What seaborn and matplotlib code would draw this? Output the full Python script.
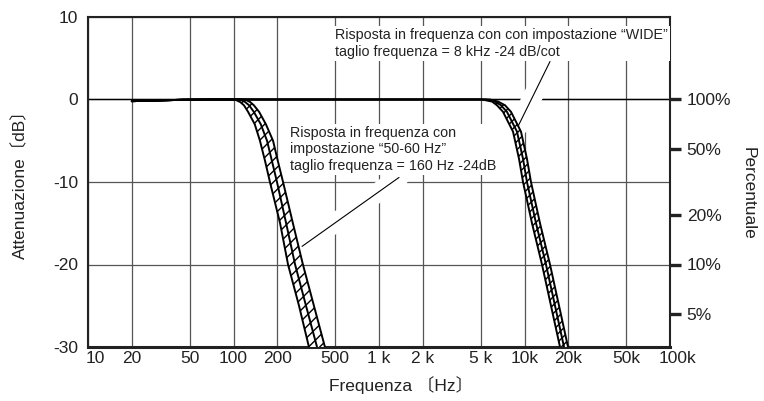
import pandas as pd
import seaborn as sns
import matplotlib.pyplot as plt
import matplotlib.patheffects as pe
from matplotlib.ticker import NullLocator
from matplotlib.transforms import ScaledTranslation

# values: frequency (Hz) per dB level, three curves per band
flat_freq = [20, 30, 45, 70]
flat_db = [-0.2, -0.12, -0.03, 0.0]

low_db = [0, -0.3, -0.7, -1.5, -3, -5, -7.5, -10, -15, -20, -25, -30]
low_freq_a = [102, 111, 118, 126, 140, 152, 165, 178, 209, 237, 282, 330]
low_freq_b = [111, 120, 128, 138, 154, 170, 184, 199, 230, 265, 315, 375]
low_freq_c = [120, 130, 138, 150, 167, 187, 202, 219, 256, 300, 357, 425]

high_db = [0, -0.25, -0.7, -1.5, -3.9, -7.2, -10, -15, -20, -25, -30]
high_freq_a = [5100, 5980, 6470, 7120, 8340, 9170, 9770, 11260, 13190, 15210, 17540]
high_freq_b = [5440, 6270, 6890, 7580, 8880, 9770, 10400, 12000, 14050, 16210, 18690]
high_freq_c = [5790, 6580, 7350, 8080, 9460, 10400, 11080, 12780, 14970, 17270, 19910]

x_ticks = [10, 20, 50, 100, 200, 500, 1000, 2000, 5000, 10000, 20000, 50000, 100000]
x_tick_labels = ['10', '20', '50', '100', '200', '500', '1 k', '2 k', '5 k',
                 '10k', '20k', '50k', '100k']
y_ticks = [10, 0, -10, -20, -30]
y_tick_labels = ['10', '0', '-10', '-20', '-30']
pct_db = [0, -6, -14, -20, -26]
pct_labels = ['100%', '50%', '20%', '10%', '5%']

txt_wide = 'Risposta in frequenza con con impostazione “WIDE”\ntaglio frequenza = 8 kHz -24 dB/cot'
txt_low = 'Risposta in frequenza con\nimpostazione “50-60 Hz”\ntaglio frequenza = 160 Hz -24dB'

sns.set_theme(style='white')
plt.rcParams['font.family'] = ['Liberation Sans', 'Noto Sans CJK SC', 'DejaVu Sans']
plt.rcParams['axes.unicode_minus'] = False
plt.rcParams['hatch.linewidth'] = 1.0

curves = [('la', low_freq_a, low_db), ('lb', low_freq_b, low_db), ('lc', low_freq_c, low_db),
          ('ha', high_freq_a, high_db), ('hb', high_freq_b, high_db), ('hc', high_freq_c, high_db)]
df = pd.concat([pd.DataFrame({'freq': flat_freq + f, 'db': flat_db + d, 'curve': n})
                for n, f, d in curves], ignore_index=True)

ink = '#222222'
fig = plt.figure(figsize=(7.64, 4.01), dpi=100)
ax = fig.add_axes([88 / 764, 54 / 401, 582 / 764, 330 / 401])
ax.set_xscale('log')

sns.lineplot(data=df, x='freq', y='db', units='curve', estimator=None, sort=False,
             color='black', linewidth=1.4, legend=False, ax=ax, zorder=3)

# hatched bands between the outer curves
ax.fill_betweenx(low_db, low_freq_a, low_freq_c, facecolor='white', edgecolor='black',
                 hatch='///', linewidth=0, zorder=2.8)
ax.fill_betweenx(high_db, high_freq_a, high_freq_c, facecolor='white', edgecolor='black',
                 hatch='////', linewidth=0, zorder=2.8)

ax.set_xlim(10, 100000)
ax.set_ylim(-30, 10)
ax.set_xticks(x_ticks, x_tick_labels)
ax.xaxis.set_minor_locator(NullLocator())
ax.set_yticks(y_ticks, y_tick_labels)
ax.set_xlabel('')
ax.set_ylabel('')
ax.set_axisbelow(True)
ax.grid(True, color='#555555', linewidth=0.9)
ax.axhline(0, color='black', linewidth=1.0, zorder=0.6)
ax.tick_params(axis='both', length=0, labelsize=12.5, colors=ink)
ax.tick_params(axis='y', pad=7)
ax.tick_params(axis='x', pad=3)

labels = ax.get_xticklabels()
labels[0].set_transform(labels[0].get_transform() + ScaledTranslation(0.07, 0, fig.dpi_scale_trans))
labels[-1].set_transform(labels[-1].get_transform() + ScaledTranslation(0.08, 0, fig.dpi_scale_trans))

for side in ['left', 'top', 'right']:
    ax.spines[side].set_linewidth(1.5)
    ax.spines[side].set_color(ink)
ax.spines['bottom'].set_linewidth(2.2)
ax.spines['bottom'].set_color(ink)

ax2 = ax.twinx()
ax2.set_ylim(-30, 10)
ax2.set_yticks(pct_db, pct_labels)
ax2.tick_params(axis='y', right=True, length=8, width=2.4, direction='out', pad=4,
                labelsize=12.5, colors=ink)
for s in ax2.spines.values():
    s.set_visible(False)

# callouts
halo = [pe.Stroke(linewidth=14, foreground='white'), pe.Normal()]
ax.annotate('', xy=(9000, -3.3), xytext=(14970, 4.6), zorder=2,
            arrowprops=dict(arrowstyle='-', color='black', lw=0.8, shrinkA=0, shrinkB=0,
                            path_effects=halo))
ax.annotate('', xy=(296, -17.8), xytext=(1372, -9.45), zorder=2,
            arrowprops=dict(arrowstyle='-', color='black', lw=0.8, shrinkA=0, shrinkB=0,
                            path_effects=halo))
box = dict(facecolor='white', edgecolor='none', pad=1.5)
ax.text(500, 6.8, txt_wide, ha='left', va='center', fontsize=10.3, linespacing=1.25,
        color=ink, bbox=box, zorder=4)
ax.text(244, -6.06, txt_low, ha='left', va='center', fontsize=10.3, linespacing=1.2,
        color=ink, bbox=box, zorder=4)

fig.text(20 / 764, 1 - 180 / 401, 'Attenuazione〔dB〕', rotation=90, ha='center', va='center',
         fontsize=12.5, color=ink)
fig.text(401 / 764, 1 - 385 / 401, 'Frequenza 〔Hz〕', ha='center', va='center',
         fontsize=12.5, color=ink)
fig.text(748 / 764, 1 - 193 / 401, 'Percentuale', rotation=270, ha='center', va='center',
         fontsize=12.5, color=ink)

fig.savefig('out.png', dpi=100)
